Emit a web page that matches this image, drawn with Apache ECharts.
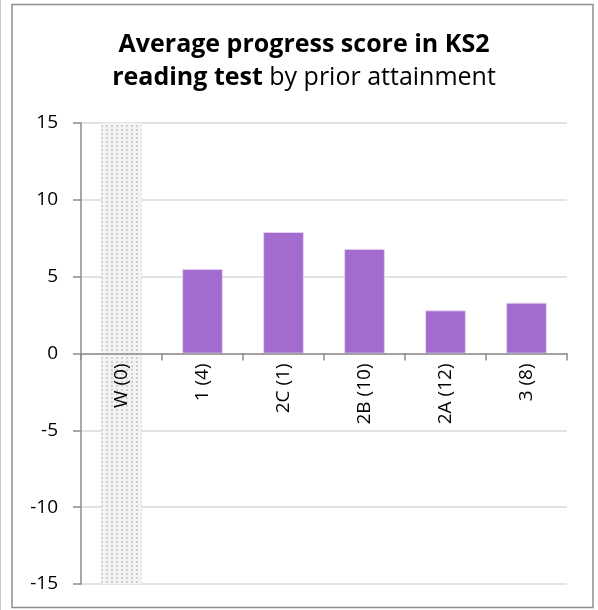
<!DOCTYPE html>
<html>
<head>
<meta charset="utf-8">
<script src="https://cdn.jsdelivr.net/npm/echarts@6/dist/echarts.min.js"></script>
<style>
  html, body { margin: 0; padding: 0; background: #fff; }
  #chart { width: 598px; height: 610px; }
</style>
</head>
<body>
<div id="chart"></div>
<script>
// Prior attainment groups (number of pupils in brackets)
const categories = ['W (0)', '1 (4)', '2C (1)', '2B (10)', '2A (12)', '3 (8)'];
// Average progress score per group
const progressScores = [null, 5.5, 7.9, 6.8, 2.8, 3.3];
// Shaded "no pupils" band spanning the full axis range
const bandUpper = [15, null, null, null, null, null];
const bandLower = [-15, null, null, null, null, null];
const yTicks = { min: -15, max: 15, interval: 5 };

const FONT = '"Open Sans", "Noto Sans", sans-serif';

// Dotted fill for the empty group
function dotPattern() {
  const c = document.createElement('canvas');
  c.width = 5; c.height = 4;
  const ctx = c.getContext('2d');
  ctx.fillStyle = '#f3f3f3';
  ctx.fillRect(0, 0, 5, 4);
  ctx.fillStyle = '#cfcfcf';
  ctx.fillRect(1, 1, 2, 2);
  return { image: c, repeat: 'repeat' };
}

const chart = echarts.init(document.getElementById('chart'), null, { renderer: 'canvas' });
const pattern = dotPattern();

chart.setOption({
  animation: false,
  textStyle: { fontFamily: FONT },
  title: {
    left: 299,
    textAlign: 'center',
    top: 23,
    text: '{b|Average progress score in KS2}\n{b|reading test}{n| by prior attainment}',
    textStyle: {
      rich: {
        b: { fontFamily: FONT, fontSize: 25, fontWeight: 'bold', color: '#000', lineHeight: 33 },
        n: { fontFamily: FONT, fontSize: 25, fontWeight: 'normal', color: '#000', lineHeight: 33 }
      }
    }
  },
  graphic: [
    {
      type: 'rect',
      shape: { x: 12, y: 4.5, width: 581, height: 603 },
      style: { fill: 'none', stroke: '#8f8f8f', lineWidth: 1.5 },
      silent: true, z: -1
    },
    {
      type: 'line',
      shape: { x1: 0.5, y1: 0, x2: 0.5, y2: 610 },
      style: { stroke: '#c8c8c8', lineWidth: 1 },
      silent: true, z: -1
    }
  ],
  grid: { left: 81, right: 31, top: 123, bottom: 26, containLabel: false, outerBoundsMode: 'none' },
  xAxis: {
    type: 'category',
    data: categories,
    offset: 0,
    z: 5,
    axisLine: { onZero: false, lineStyle: { color: '#8c8c8c', width: 1.5 } },
    axisTick: { show: true, length: 7, alignWithLabel: false, lineStyle: { color: '#8c8c8c', width: 1.5 } },
    axisLabel: { rotate: 90, margin: 10, fontSize: 19, color: '#000', fontFamily: FONT },
    splitLine: { show: false }
  },
  yAxis: {
    type: 'value',
    min: yTicks.min,
    max: yTicks.max,
    interval: yTicks.interval,
    axisLine: { show: true, lineStyle: { color: '#8c8c8c', width: 1.5 } },
    axisTick: { show: true, length: 8, lineStyle: { color: '#8c8c8c', width: 1.5 } },
    axisLabel: { margin: 23, fontSize: 19, color: '#000', fontFamily: FONT },
    splitLine: { show: true, lineStyle: { color: '#d9d9d9', width: 1.5 } }
  },
  series: [
    {
      name: 'bandUpper', type: 'bar', stack: 'band', barWidth: '50%',
      data: bandUpper, itemStyle: { color: pattern }, silent: true, z: 1
    },
    {
      name: 'bandLower', type: 'bar', stack: 'band', barWidth: '50%',
      data: bandLower, itemStyle: { color: pattern }, silent: true, z: 1
    },
    {
      name: 'Average progress score', type: 'bar', barWidth: '50%', barGap: '-100%',
      data: progressScores,
      itemStyle: { color: '#a46bcf', borderColor: '#e6d6f3', borderWidth: 0.8 },
      z: 2
    }
  ]
});

// Lift the category axis (line, ticks and labels) from the grid bottom up to y = 0
const zeroY = chart.convertToPixel({ yAxisIndex: 0 }, 0);
const bottomY = chart.convertToPixel({ yAxisIndex: 0 }, yTicks.min);
chart.setOption({ xAxis: { offset: zeroY - bottomY } });
</script>
</body>
</html>
